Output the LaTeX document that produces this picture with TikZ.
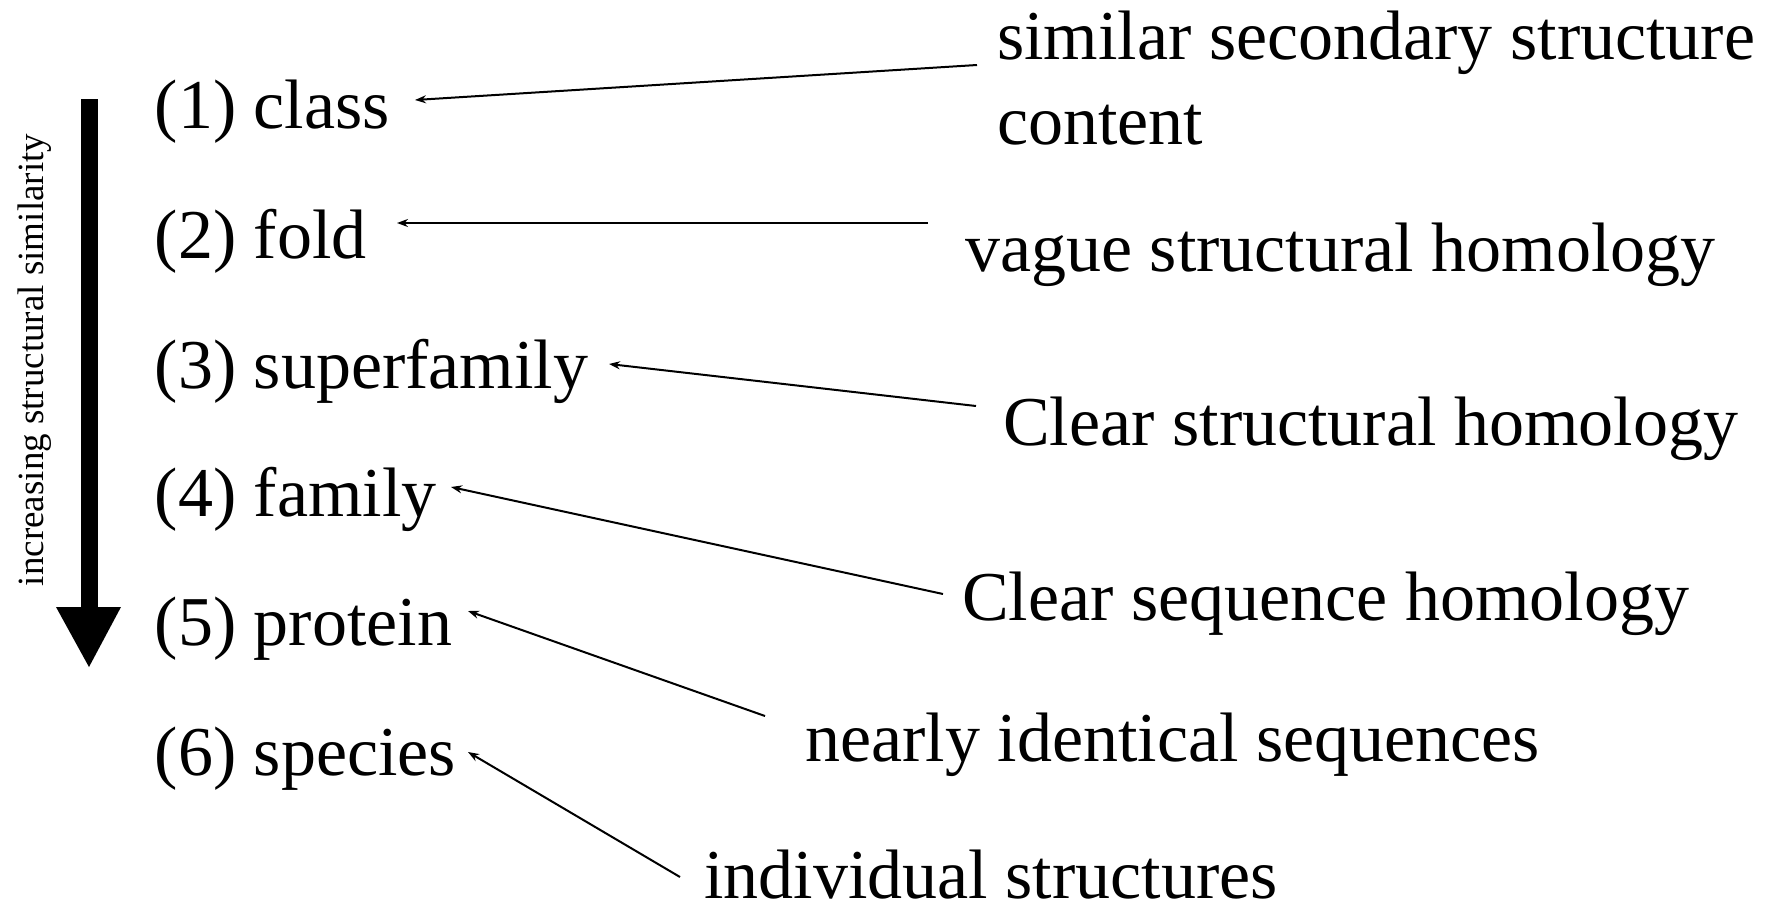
\documentclass[tikz,border=0pt]{standalone}
\usepackage{fontspec}
\setmainfont{Liberation Serif}
\usetikzlibrary{arrows.meta}
\begin{document}
\begin{tikzpicture}[x=1pt,y=-1pt,
  lvl/.style={anchor=base west,inner sep=0pt,font=\fontsize{70}{85}\selectfont},
  desc/.style={anchor=base west,inner sep=0pt,align=left,font=\fontsize{70}{85}\selectfont},
  link/.style={line width=2pt,-{Stealth[length=11pt,width=8pt]}}]
\useasboundingbox (0,0) rectangle (1768,907);
% vertical arrow
\fill (80.5,99) rectangle (97.5,607);
\fill (56,607) -- (121,607) -- (89,667) -- cycle;
\node[rotate=90,anchor=base,inner sep=0pt,font=\fontsize{37}{44}\selectfont] (axis) at (43,360) {increasing structural similarity};
% levels
\node[lvl] (l1) at (154.5,128) {(1) class};
\node[lvl] (l2) at (154.5,258) {(2) fold};
\node[lvl] (l3) at (154.5,388) {(3) superfamily};
\node[lvl] (l4) at (154.5,516) {(4) family};
\node[lvl] (l5) at (154.5,645) {(5) protein};
\node[lvl] (l6) at (154.5,775) {(6) species};
% descriptions
\node[desc] (r1) at (997,144) {similar secondary structure\\content};
\node[desc] (r2) at (965,271) {vague structural homology};
\node[desc] (r3) at (1003,445) {Clear structural homology};
\node[desc] (r4) at (962,620) {Clear sequence homology};
\node[desc] (r5) at (805,761) {nearly identical sequences};
\node[desc] (r6) at (704,898) {individual structures};
% connector ends
\coordinate (s1) at (977,65);  \coordinate (e1) at (415,100);
\coordinate (s2) at (928,223); \coordinate (e2) at (397,223);
\coordinate (s3) at (976,406); \coordinate (e3) at (609,364);
\coordinate (s4) at (943,594); \coordinate (e4) at (451,487);
\coordinate (s5) at (765,716); \coordinate (e5) at (468,611);
\coordinate (s6) at (680,877); \coordinate (e6) at (468,752);
\foreach \i in {1,...,6} \draw[link] (s\i) -- (e\i);
\end{tikzpicture}
\end{document}
